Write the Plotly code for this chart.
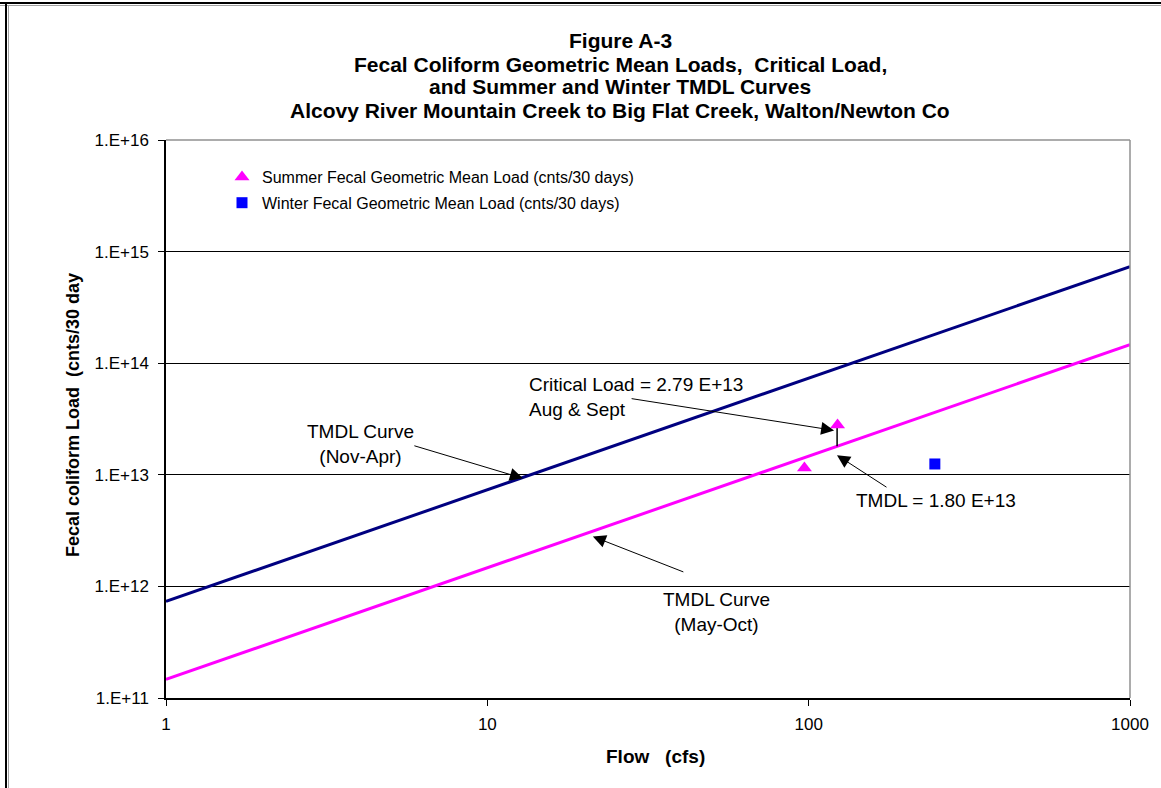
import numpy as np
import plotly.graph_objects as go

# Flow range for the TMDL curves (cfs)
flow_curve = [1, 1000]
# Allowable load per cfs over 30 days: 200 and 1000 counts/100 mL standards
summer_rate = 1.468e11
winter_rate = 7.34e11
summer_tmdl = [summer_rate * q for q in flow_curve]
winter_tmdl = [winter_rate * q for q in flow_curve]

# Observed geometric mean loads (cnts/30 days)
summer_flow = [123, 97]
summer_load = [2.79e13, 1.15e13]
winter_flow = [247]
winter_load = [1.25e13]

# Critical condition (Aug & Sept)
critical_flow = 122.6
critical_load = 2.79e13
tmdl_load = 1.80e13

y_ticks = [1e11, 1e12, 1e13, 1e14, 1e15, 1e16]
y_tick_text = ["1.E+11", "1.E+12", "1.E+13", "1.E+14", "1.E+15", "1.E+16"]
x_ticks = [1, 10, 100, 1000]
x_tick_text = ["1", "10", "100", "1000"]

FONT = "Liberation Sans, Arial, sans-serif"
L, R, T, B = 166, 31, 140, 90
W, H = 1161, 788
PW, PH = W - L - R, H - T - B


def px(xp):
    return (xp - L) / PW


def py(yp):
    return (H - B - yp) / PH


fig = go.Figure()

fig.add_trace(go.Scatter(x=flow_curve, y=winter_tmdl, mode="lines",
                         line=dict(color="#000080", width=3), showlegend=False,
                         cliponaxis=False))
fig.add_trace(go.Scatter(x=flow_curve, y=summer_tmdl, mode="lines",
                         line=dict(color="#FF00FF", width=3), showlegend=False,
                         cliponaxis=False))
# Reduction from critical load to TMDL at the critical flow
fig.add_trace(go.Scatter(x=[critical_flow, critical_flow], y=[critical_load, tmdl_load],
                         mode="lines", line=dict(color="black", width=1.5),
                         showlegend=False))
fig.add_trace(go.Scatter(x=summer_flow, y=summer_load, mode="markers",
                         marker=dict(symbol="triangle-up", size=13, color="#FF00FF"),
                         name="Summer Fecal Geometric Mean Load (cnts/30 days)",
                         legendgroup="s"))
fig.add_trace(go.Scatter(x=winter_flow, y=winter_load, mode="markers",
                         marker=dict(symbol="square", size=11, color="#0000FF"),
                         name="Winter Fecal Geometric Mean Load (cnts/30 days)",
                         legendgroup="w"))

annotations = []
title_lines = [
    ("Figure A-3", 40),
    ("Fecal Coliform Geometric Mean Loads,  Critical Load,", 64),
    ("and Summer and Winter TMDL Curves", 87),
    ("Alcovy River Mountain Creek to Big Flat Creek, Walton/Newton Co", 111),
]
for txt, yy in title_lines:
    annotations.append(dict(text=txt, xref="paper", yref="paper", x=px(620), y=py(yy),
                            xanchor="center", yanchor="middle", showarrow=False,
                            font=dict(family=FONT, size=21, color="black", weight="bold")))

annotations.append(dict(text="Fecal coliform Load  (cnts/30 day", xref="paper", yref="paper",
                        x=px(73), y=py(415), textangle=-90, showarrow=False,
                        xanchor="center", yanchor="middle",
                        font=dict(family=FONT, size=18, color="black", weight="bold")))
annotations.append(dict(text="Flow   (cfs)", xref="paper", yref="paper",
                        x=px(655), y=py(756), showarrow=False,
                        xanchor="center", yanchor="middle",
                        font=dict(family=FONT, size=19, color="black", weight="bold")))

afont = dict(family=FONT, size=19, color="black")
arrow = dict(arrowhead=2, arrowsize=2.6, arrowwidth=1, arrowcolor="black", showarrow=True)

# Arrows pointing to features (positions in log10 data units)
annotations.append(dict(x=np.log10(12.9), y=np.log10(9.3e12), ax=-110, ay=-33, text="", **arrow))
annotations.append(dict(x=np.log10(120), y=np.log10(2.5e13), ax=-204, ay=-32, text="", **arrow))
annotations.append(dict(x=np.log10(122.5), y=np.log10(1.5e13), ax=51, ay=33, text="", **arrow))
annotations.append(dict(x=np.log10(21.3), y=np.log10(2.8e12), ax=92, ay=36, text="", **arrow))

annotations.append(dict(text="TMDL Curve<br>(Nov-Apr)", xref="paper", yref="paper",
                        x=px(360), y=py(444), showarrow=False, align="center",
                        xanchor="center", yanchor="middle", font=afont))
annotations.append(dict(text="Critical Load = 2.79 E+13<br>Aug & Sept", xref="paper", yref="paper",
                        x=px(527), y=py(397), showarrow=False, align="left",
                        xanchor="left", yanchor="middle", font=afont))
annotations.append(dict(text="TMDL = 1.80 E+13", xref="paper", yref="paper",
                        x=px(854), y=py(501), showarrow=False, align="left",
                        xanchor="left", yanchor="middle", font=afont))
annotations.append(dict(text="TMDL Curve<br>(May-Oct)", xref="paper", yref="paper",
                        x=px(716), y=py(612), showarrow=False, align="center",
                        xanchor="center", yanchor="middle", font=afont))

shapes = [
    # gray plot-area border on top and right
    dict(type="line", xref="paper", yref="paper", x0=0, x1=1, y0=1, y1=1,
         line=dict(color="#909090", width=1.5), layer="above"),
    dict(type="line", xref="paper", yref="paper", x0=1, x1=1, y0=0, y1=1,
         line=dict(color="#909090", width=1.5), layer="above"),
    # outer frame
    dict(type="line", xref="paper", yref="paper", x0=px(0), x1=px(W), y0=py(3), y1=py(3),
         line=dict(color="black", width=2)),
    dict(type="line", xref="paper", yref="paper", x0=px(0), x1=px(W), y0=py(5.5), y1=py(5.5),
         line=dict(color="#a0a0a0", width=1)),
    dict(type="line", xref="paper", yref="paper", x0=px(6), x1=px(6), y0=py(H), y1=py(3),
         line=dict(color="black", width=2)),
    dict(type="line", xref="paper", yref="paper", x0=px(8.5), x1=px(8.5), y0=py(H), y1=py(5.5),
         line=dict(color="#a0a0a0", width=1)),
]

fig.update_layout(
    width=W, height=H,
    margin=dict(l=L, r=R, t=T, b=B),
    paper_bgcolor="white", plot_bgcolor="white",
    font=dict(family=FONT, color="black"),
    showlegend=True,
    legend=dict(x=px(222), y=py(160), xanchor="left", yanchor="top",
                font=dict(family=FONT, size=16, color="black"),
                bgcolor="rgba(0,0,0,0)", itemwidth=30, tracegroupgap=2),
    annotations=annotations,
    shapes=shapes,
)
fig.update_xaxes(type="log", range=[0, 3], tickvals=x_ticks, ticktext=x_tick_text,
                 showgrid=False, zeroline=False, showline=True, linecolor="black", linewidth=2,
                 ticks="outside", ticklen=6, tickcolor="black", ticklabelstandoff=4,
                 tickfont=dict(family=FONT, size=17, color="black"))
fig.update_yaxes(type="log", range=[11, 16], tickvals=y_ticks, ticktext=y_tick_text,
                 showgrid=True, gridcolor="black", gridwidth=1, zeroline=False,
                 showline=True, linecolor="black", linewidth=1.5,
                 ticks="outside", ticklen=6, tickcolor="black", ticklabelstandoff=6,
                 tickfont=dict(family=FONT, size=17, color="black"))

fig.write_html("out.html")
